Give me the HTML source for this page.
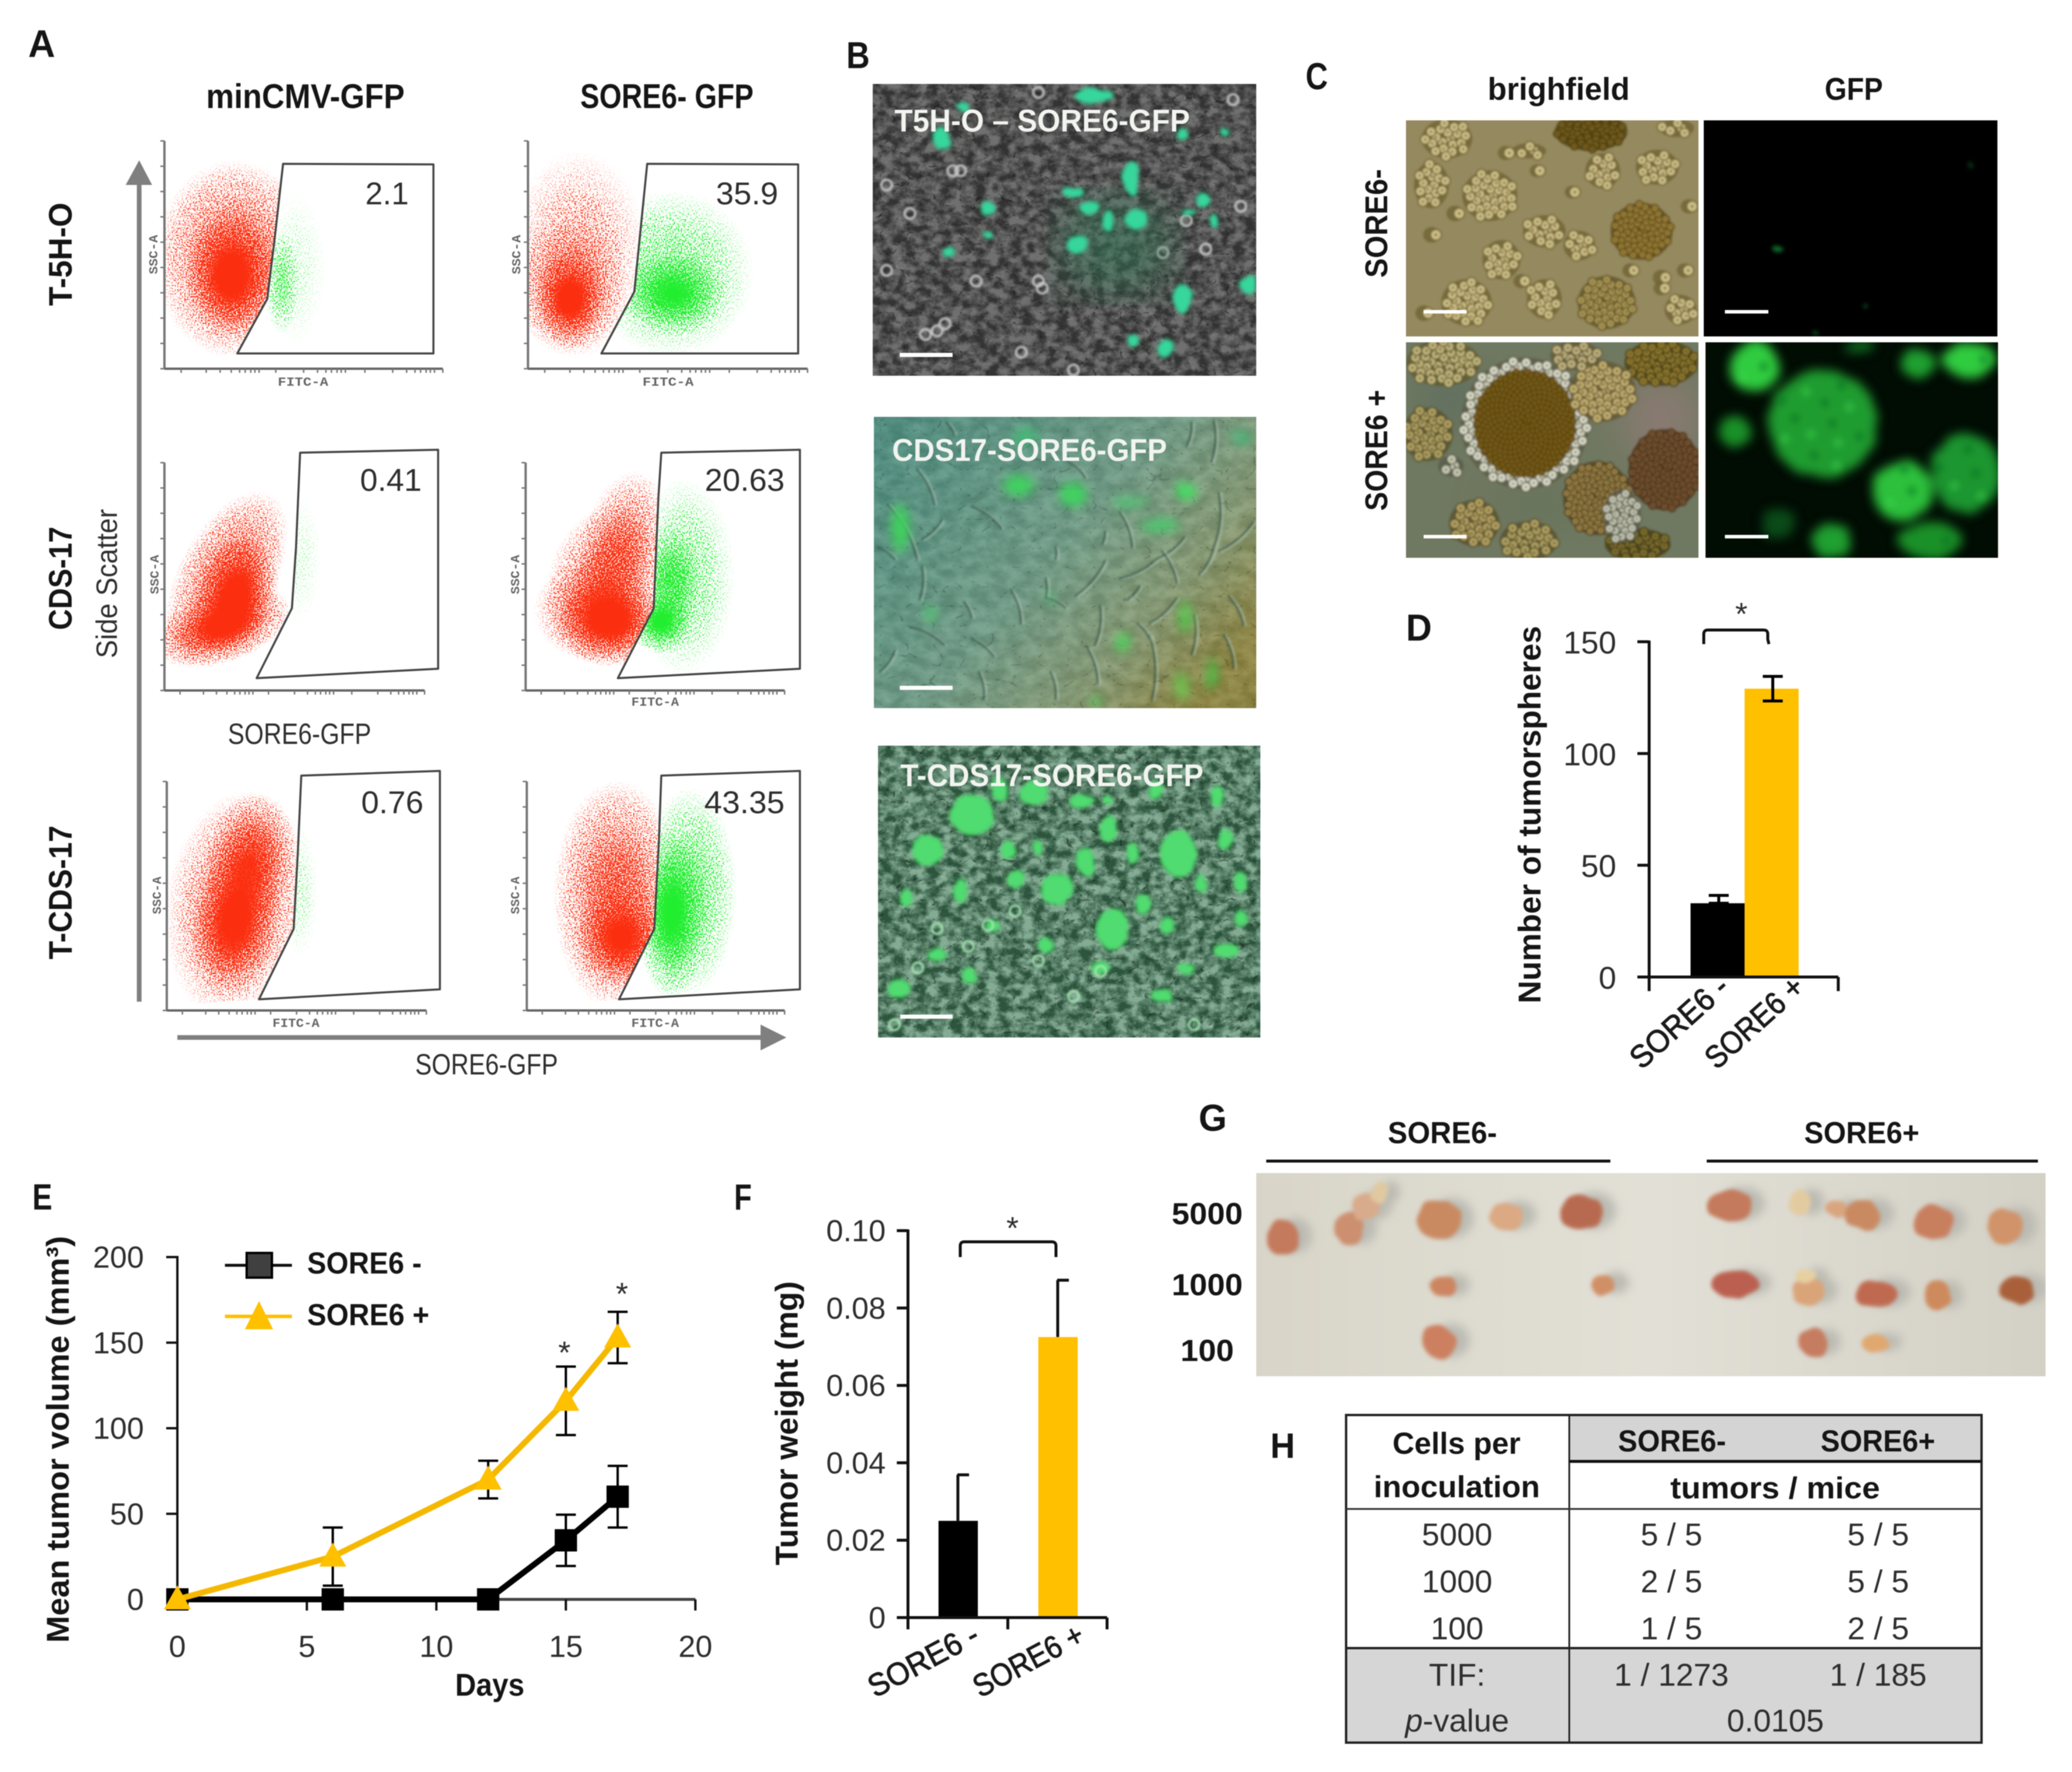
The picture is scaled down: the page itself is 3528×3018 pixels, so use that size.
<!DOCTYPE html>
<html lang="en">
<head>
<meta charset="utf-8">
<title>SORE6 multi-panel figure</title>
<style>
html,body{margin:0;padding:0;background:#fff;width:3528px;height:3018px;overflow:hidden}
svg{display:block;filter:blur(0.9px)}
text{font-family:"Liberation Sans",sans-serif}
.b{font-weight:700;fill:#151515}
.r{font-weight:400;fill:#2e2e2e}
.w{font-weight:700;fill:#f2f4f0}
.t{font-family:"Liberation Mono",monospace;font-size:21px;fill:#666;font-weight:700}
.rot{font-weight:400;fill:#1a1a1a;stroke:#1a1a1a;stroke-width:1.2}
</style>
</head>
<body>
<svg id="figure" xmlns="http://www.w3.org/2000/svg" width="3528" height="3018" viewBox="0 0 3528 3018">
<defs>
  <radialGradient id="cloud-fade"><stop offset="0" stop-color="#000" stop-opacity="1"/><stop offset="0.35" stop-color="#000" stop-opacity="0.78"/><stop offset="0.7" stop-color="#000" stop-opacity="0.3"/><stop offset="1" stop-color="#000" stop-opacity="0"/></radialGradient>
  <filter id="speck-red" x="-5%" y="-5%" width="110%" height="110%" color-interpolation-filters="sRGB">
    <feTurbulence type="fractalNoise" baseFrequency="0.42" numOctaves="2" seed="4" result="n"/>
    <feColorMatrix in="n" type="matrix" values="0 0 0 0 0 0 0 0 0 0 0 0 0 0 0 0 0 0 4 -1.5" result="na"/>
    <feComposite in="SourceGraphic" in2="na" operator="arithmetic" k1="0" k2="1.3" k3="1" k4="-1" result="mix"/>
    <feComponentTransfer in="mix" result="th"><feFuncA type="linear" slope="5" intercept="0"/></feComponentTransfer>
    <feFlood flood-color="#fb2f10"/>
    <feComposite in2="th" operator="in"/>
  </filter>
  <filter id="speck-green" x="-5%" y="-5%" width="110%" height="110%" color-interpolation-filters="sRGB">
    <feTurbulence type="fractalNoise" baseFrequency="0.42" numOctaves="2" seed="11" result="n"/>
    <feColorMatrix in="n" type="matrix" values="0 0 0 0 0 0 0 0 0 0 0 0 0 0 0 0 0 0 4 -1.5" result="na"/>
    <feComposite in="SourceGraphic" in2="na" operator="arithmetic" k1="0" k2="1.3" k3="1" k4="-1" result="mix"/>
    <feComponentTransfer in="mix" result="th"><feFuncA type="linear" slope="5" intercept="0"/></feComponentTransfer>
    <feFlood flood-color="#22ee30"/>
    <feComposite in2="th" operator="in"/>
  </filter>
  <filter id="tex-soft" x="0" y="0" width="100%" height="100%" color-interpolation-filters="sRGB">
    <feTurbulence type="fractalNoise" baseFrequency="0.035 0.05" numOctaves="4" seed="7"/>
    <feColorMatrix type="matrix" values="2.2 0 0 0 -0.6 2.2 0 0 0 -0.6 2.2 0 0 0 -0.6 0 0 0 0 0.16"/>
  </filter>
  <filter id="tex-mid" x="0" y="0" width="100%" height="100%" color-interpolation-filters="sRGB">
    <feTurbulence type="fractalNoise" baseFrequency="0.05 0.065" numOctaves="4" seed="13"/>
    <feColorMatrix type="matrix" values="2.6 0 0 0 -0.8 2.6 0 0 0 -0.8 2.6 0 0 0 -0.8 0 0 0 0 0.34"/>
  </filter>
  <filter id="tex-veins-dark" x="0" y="0" width="100%" height="100%" color-interpolation-filters="sRGB">
    <feTurbulence type="turbulence" baseFrequency="0.022 0.03" numOctaves="3" seed="5"/>
    <feColorMatrix type="matrix" values="0 0 0 0 0.05 0 0 0 0 0.07 0 0 0 0 0.05 0 0 0 -9 0.85"/>
  </filter>
  <filter id="tex-veins-light" x="0" y="0" width="100%" height="100%" color-interpolation-filters="sRGB">
    <feTurbulence type="turbulence" baseFrequency="0.03 0.035" numOctaves="3" seed="16"/>
    <feColorMatrix type="matrix" values="0 0 0 0 0.82 0 0 0 0 0.88 0 0 0 0 0.8 0 0 0 -9 0.8"/>
  </filter>
  <filter id="tex-rings" x="0" y="0" width="100%" height="100%" color-interpolation-filters="sRGB">
    <feTurbulence type="turbulence" baseFrequency="0.07" numOctaves="2" seed="31"/>
    <feColorMatrix type="matrix" values="0 0 0 0 0.2 0 0 0 0 0.16 0 0 0 0 0.06 0 0 0 -8 0.9"/>
  </filter>
  <filter id="lumpy" x="-5%" y="-5%" width="110%" height="110%" color-interpolation-filters="sRGB">
    <feTurbulence type="fractalNoise" baseFrequency="0.025" numOctaves="2" seed="9" result="n"/>
    <feDisplacementMap in="SourceGraphic" in2="n" scale="14" xChannelSelector="R" yChannelSelector="G"/>
    <feGaussianBlur stdDeviation="3.5"/>
  </filter>
  <filter id="lumpy-soft" x="-5%" y="-5%" width="110%" height="110%" color-interpolation-filters="sRGB">
    <feTurbulence type="fractalNoise" baseFrequency="0.03" numOctaves="2" seed="3" result="n"/>
    <feDisplacementMap in="SourceGraphic" in2="n" scale="14" xChannelSelector="R" yChannelSelector="G"/>
    <feGaussianBlur stdDeviation="9"/>
  </filter>
  <filter id="soft-8"><feGaussianBlur stdDeviation="8"/></filter>
  <filter id="soft-5"><feGaussianBlur stdDeviation="5"/></filter>
  <filter id="soft-2"><feGaussianBlur stdDeviation="1.8"/></filter>
  <filter id="soft-30"><feGaussianBlur stdDeviation="34"/></filter>
  <clipPath id="clip-b1"><rect x="1486" y="143" width="653" height="497"/></clipPath>
  <clipPath id="clip-b2"><rect x="1488" y="710" width="651" height="496"/></clipPath>
  <clipPath id="clip-b3"><rect x="1495" y="1270" width="651" height="497"/></clipPath>
  <clipPath id="clip-c1"><rect x="2394" y="205" width="498" height="368"/></clipPath>
  <clipPath id="clip-c2"><rect x="2901" y="205" width="500" height="368"/></clipPath>
  <clipPath id="clip-c3"><rect x="2394" y="583" width="498" height="367"/></clipPath>
  <clipPath id="clip-c4"><rect x="2904" y="583" width="498" height="367"/></clipPath>
  <clipPath id="clip-g"><rect x="2139" y="1998" width="1344" height="346"/></clipPath>
  <linearGradient id="b2-bg" x1="0" y1="0.1" x2="1" y2="0.75"><stop offset="0" stop-color="#4e8f80"/><stop offset="0.5" stop-color="#6f9c86"/><stop offset="0.78" stop-color="#869a72"/><stop offset="1" stop-color="#8d843e"/></linearGradient>
  <linearGradient id="g-bg" x1="0" y1="0" x2="1" y2="0"><stop offset="0" stop-color="#d8d5c8"/><stop offset="0.5" stop-color="#e2e0d6"/><stop offset="1" stop-color="#d3d0c5"/></linearGradient>
</defs>

<rect x="0" y="0" width="3528" height="3018" fill="#fff"/>

<!-- PANEL A -->
<g id="panel-a">
  <text class="b" x="48" y="97" font-size="66" textLength="46" lengthAdjust="spacingAndGlyphs">A</text>
  <text class="b" x="351" y="184" font-size="58" textLength="338" lengthAdjust="spacingAndGlyphs">minCMV-GFP</text>
  <text class="b" x="988" y="184" font-size="58" textLength="295" lengthAdjust="spacingAndGlyphs">SORE6- GFP</text>
  <text class="b" transform="translate(122,521) rotate(-90)" font-size="56" textLength="176" lengthAdjust="spacingAndGlyphs">T-5H-O</text>
  <text class="b" transform="translate(122,1073) rotate(-90)" font-size="56" textLength="176" lengthAdjust="spacingAndGlyphs">CDS-17</text>
  <text class="b" transform="translate(122,1634) rotate(-90)" font-size="56" textLength="228" lengthAdjust="spacingAndGlyphs">T-CDS-17</text>
  <text class="r" transform="translate(199,1121) rotate(-90)" font-size="50" textLength="254" lengthAdjust="spacingAndGlyphs">Side Scatter</text>
  <text class="r" x="707" y="1830" font-size="50" textLength="243" lengthAdjust="spacingAndGlyphs">SORE6-GFP</text>
  <text class="r" x="388" y="1267" font-size="50" textLength="244" lengthAdjust="spacingAndGlyphs">SORE6-GFP</text>
  <g id="facs-plots"></g>
  <path fill="#7f7f7f" d="M233 1706V315H214L237 273L259 315H241V1706Z"/>
  <path fill="#7f7f7f" d="M302 1763H1295V1745L1339 1767L1295 1789V1771H302Z"/>
  <text class="r" x="622" y="348" font-size="54" textLength="74" lengthAdjust="spacingAndGlyphs">2.1</text>
  <text class="r" x="1219" y="348" font-size="54" textLength="106" lengthAdjust="spacingAndGlyphs">35.9</text>
  <text class="r" x="613" y="836" font-size="54" textLength="105" lengthAdjust="spacingAndGlyphs">0.41</text>
  <text class="r" x="1200" y="836" font-size="54" textLength="136" lengthAdjust="spacingAndGlyphs">20.63</text>
  <text class="r" x="615" y="1385" font-size="54" textLength="106" lengthAdjust="spacingAndGlyphs">0.76</text>
  <text class="r" x="1199" y="1385" font-size="54" textLength="137" lengthAdjust="spacingAndGlyphs">43.35</text>
  <text class="t" x="473" y="657" textLength="86" lengthAdjust="spacingAndGlyphs">FITC-A</text>
  <text class="t" x="1094" y="657" textLength="87" lengthAdjust="spacingAndGlyphs">FITC-A</text>
  <text class="t" x="1075" y="1202" textLength="81" lengthAdjust="spacingAndGlyphs">FITC-A</text>
  <text class="t" x="464" y="1749" textLength="80" lengthAdjust="spacingAndGlyphs">FITC-A</text>
  <text class="t" x="1075" y="1749" textLength="81" lengthAdjust="spacingAndGlyphs">FITC-A</text>
  <text class="t" transform="translate(268,467) rotate(-90)" textLength="67" lengthAdjust="spacingAndGlyphs">SSC-A</text>
  <text class="t" transform="translate(886,467) rotate(-90)" textLength="67" lengthAdjust="spacingAndGlyphs">SSC-A</text>
  <text class="t" transform="translate(270,1012) rotate(-90)" textLength="67" lengthAdjust="spacingAndGlyphs">SSC-A</text>
  <text class="t" transform="translate(884,1012) rotate(-90)" textLength="67" lengthAdjust="spacingAndGlyphs">SSC-A</text>
  <text class="t" transform="translate(274,1557) rotate(-90)" textLength="64" lengthAdjust="spacingAndGlyphs">SSC-A</text>
  <text class="t" transform="translate(884,1557) rotate(-90)" textLength="64" lengthAdjust="spacingAndGlyphs">SSC-A</text>
</g>

<!-- PANEL B -->
<g id="panel-b">
  <text class="b" x="1441" y="116" font-size="64" textLength="40" lengthAdjust="spacingAndGlyphs">B</text>
  <g clip-path="url(#clip-b1)">
    <rect x="1486" y="143" width="653" height="497" fill="#444444"/>
    <rect x="1486" y="143" width="653" height="497" fill="#000" filter="url(#tex-mid)" opacity="0.7"/>
    <rect x="1486" y="143" width="653" height="497" fill="#000" filter="url(#tex-veins-dark)" opacity="0.8"/>
    <rect x="1486" y="143" width="653" height="497" fill="#000" filter="url(#tex-veins-light)" opacity="0.3"/>
    <g id="b1-rings" filter="url(#soft-2)"></g>
    <g id="b1-haze" filter="url(#soft-30)"></g>
    <g id="b1-blobs" filter="url(#lumpy)"></g>
  </g>
  <g clip-path="url(#clip-b2)">
    <rect x="1488" y="710" width="651" height="496" fill="url(#b2-bg)"/>
    <rect x="1488" y="710" width="651" height="496" fill="#000" filter="url(#tex-soft)" opacity="0.6"/>
    <rect x="1488" y="710" width="651" height="496" fill="#000" filter="url(#tex-veins-dark)" opacity="0.35"/>
    <g id="b2-streaks" filter="url(#soft-2)"></g>
    <g id="b2-blobs" filter="url(#lumpy-soft)"></g>
  </g>
  <g clip-path="url(#clip-b3)">
    <rect x="1495" y="1270" width="651" height="497" fill="#447f5c"/>
    <rect x="1495" y="1270" width="651" height="497" fill="#000" filter="url(#tex-mid)"/>
    <rect x="1495" y="1270" width="651" height="497" fill="#000" filter="url(#tex-veins-dark)" opacity="0.8"/>
    <rect x="1495" y="1270" width="651" height="497" fill="#000" filter="url(#tex-veins-light)" opacity="0.55"/>
    <g id="b3-blobs" filter="url(#lumpy)"></g>
    <g id="b3-rings" filter="url(#soft-2)"></g>
  </g>
  <text class="w" x="1523" y="224" font-size="54" textLength="503" lengthAdjust="spacingAndGlyphs">T5H-O – SORE6-GFP</text>
  <text class="w" x="1519" y="785" font-size="54" textLength="468" lengthAdjust="spacingAndGlyphs">CDS17-SORE6-GFP</text>
  <text class="w" x="1533" y="1339" font-size="54" textLength="516" lengthAdjust="spacingAndGlyphs">T-CDS17-SORE6-GFP</text>
  <rect x="1532" y="601" width="90" height="7" fill="#fff"/>
  <rect x="1532" y="1168" width="90" height="7" fill="#fff"/>
  <rect x="1533" y="1728" width="89" height="7" fill="#fff"/>
</g>

<!-- PANEL C -->
<g id="panel-c">
  <text class="b" x="2223" y="152" font-size="64" textLength="38" lengthAdjust="spacingAndGlyphs">C</text>
  <text class="b" x="2533" y="170" font-size="54" textLength="242" lengthAdjust="spacingAndGlyphs">brighfield</text>
  <text class="b" x="3107" y="170" font-size="54" textLength="99" lengthAdjust="spacingAndGlyphs">GFP</text>
  <text class="b" transform="translate(2362,473) rotate(-90)" font-size="54" textLength="185" lengthAdjust="spacingAndGlyphs">SORE6-</text>
  <text class="b" transform="translate(2362,870) rotate(-90)" font-size="54" textLength="206" lengthAdjust="spacingAndGlyphs">SORE6 +</text>
  <g clip-path="url(#clip-c1)">
    <rect x="2394" y="205" width="498" height="368" fill="#95895f"/>
    <g id="c1-blobs" filter="url(#soft-2)"></g>
  </g>
  <g clip-path="url(#clip-c2)">
    <rect x="2901" y="205" width="500" height="368" fill="#000"/>
    <g id="c2-blobs" filter="url(#lumpy)"></g>
  </g>
  <g clip-path="url(#clip-c3)">
    <rect x="2394" y="583" width="498" height="367" fill="#6f7860"/>
    <g id="c3-under" filter="url(#soft-30)"></g>
    <g id="c3-blobs" filter="url(#soft-2)"></g>
  </g>
  <g clip-path="url(#clip-c4)">
    <rect x="2904" y="583" width="498" height="367" fill="#010c03"/>
    <g id="c4-blobs" filter="url(#lumpy-soft)"></g>
    <g id="c4-mottle" filter="url(#soft-5)"></g>
  </g>
  <rect x="2424" y="528" width="73" height="6" fill="#fff"/>
  <rect x="2937" y="528" width="74" height="6" fill="#fff"/>
  <rect x="2424" y="911" width="73" height="6" fill="#fff"/>
  <rect x="2937" y="911" width="74" height="6" fill="#fff"/>
</g>

<!-- PANEL D -->
<g id="panel-d">
  <text class="b" x="2394" y="1091" font-size="64" textLength="44" lengthAdjust="spacingAndGlyphs">D</text>
  <text class="b" transform="translate(2623,1709) rotate(-90)" font-size="54" textLength="643" lengthAdjust="spacingAndGlyphs">Number of tumorspheres</text>
  <path fill="none" stroke="#111" stroke-width="5" d="M2901 1097V1080Q2901 1073 2908 1073H3003Q3010 1073 3010 1080V1089L3012 1097"/>
  <text class="r" x="2965" y="1064" font-size="54" text-anchor="middle">*</text>
</g>

<!-- PANEL E -->
<g id="panel-e">
  <text class="b" x="55" y="2060" font-size="62" textLength="34" lengthAdjust="spacingAndGlyphs">E</text>
  <text class="b" transform="translate(117,2798) rotate(-90)" font-size="54" textLength="693" lengthAdjust="spacingAndGlyphs">Mean tumor volume (mm³)</text>
  <text class="b" x="775" y="2888" font-size="54" textLength="118" lengthAdjust="spacingAndGlyphs">Days</text>
  <line x1="383" y1="2155" x2="497" y2="2155" stroke="#111" stroke-width="5"/>
  <rect x="420" y="2134" width="43" height="42" fill="#404040" stroke="#000" stroke-width="4"/>
  <text class="b" x="523" y="2169" font-size="52" textLength="195" lengthAdjust="spacingAndGlyphs">SORE6 -</text>
  <line x1="383" y1="2242" x2="497" y2="2242" stroke="#FFC000" stroke-width="6"/>
  <polygon points="417,2264 465,2264 441,2216" fill="#FFC000"/>
  <text class="b" x="523" y="2257" font-size="52" textLength="208" lengthAdjust="spacingAndGlyphs">SORE6 +</text>
  <text class="r" x="961" y="2322" font-size="54" text-anchor="middle">*</text>
  <text class="r" x="1059" y="2222" font-size="54" text-anchor="middle">*</text>
</g>

<!-- PANEL F -->
<g id="panel-f">
  <text class="b" x="1250" y="2060" font-size="62" textLength="30" lengthAdjust="spacingAndGlyphs">F</text>
  <text class="b" transform="translate(1358,2666) rotate(-90)" font-size="54" textLength="484" lengthAdjust="spacingAndGlyphs">Tumor weight (mg)</text>
  <path fill="none" stroke="#111" stroke-width="5" d="M1635 2141V2122Q1635 2115 1642 2115H1791Q1798 2115 1798 2122V2141"/>
  <text class="r" x="1724" y="2110" font-size="54" text-anchor="middle">*</text>
</g>

<!-- PANEL G -->
<g id="panel-g">
  <text class="b" x="2041" y="1926" font-size="64" textLength="48" lengthAdjust="spacingAndGlyphs">G</text>
  <text class="b" x="2363" y="1947" font-size="52" textLength="186" lengthAdjust="spacingAndGlyphs">SORE6-</text>
  <text class="b" x="3072" y="1947" font-size="52" textLength="196" lengthAdjust="spacingAndGlyphs">SORE6+</text>
  <rect x="2156" y="1975" width="586" height="5" fill="#111"/>
  <rect x="2906" y="1975" width="564" height="5" fill="#111"/>
  <text class="b" x="1995" y="2085" font-size="52" textLength="121" lengthAdjust="spacingAndGlyphs">5000</text>
  <text class="b" x="1995" y="2206" font-size="52" textLength="121" lengthAdjust="spacingAndGlyphs">1000</text>
  <text class="b" x="2010" y="2318" font-size="52" textLength="91" lengthAdjust="spacingAndGlyphs">100</text>
  <g clip-path="url(#clip-g)">
    <rect x="2139" y="1998" width="1344" height="346" fill="url(#g-bg)"/>
    <g id="g-shadows" filter="url(#soft-8)"></g>
    <g id="g-blobs" filter="url(#lumpy)"></g>
  </g>
</g>

<!-- PANEL H -->
<g id="panel-h">
  <text class="b" x="2163" y="2483" font-size="60" textLength="42" lengthAdjust="spacingAndGlyphs">H</text>
  <rect x="2672" y="2410" width="702" height="79" fill="#d4d4d4"/>
  <rect x="2292" y="2807" width="1082" height="161" fill="#d6d6d6"/>
  <rect x="2292" y="2410" width="1082" height="558" fill="none" stroke="#222" stroke-width="4"/>
  <line x1="2672" y1="2410" x2="2672" y2="2968" stroke="#222" stroke-width="3"/>
  <line x1="2672" y1="2489" x2="3374" y2="2489" stroke="#111" stroke-width="5"/>
  <line x1="2292" y1="2570" x2="3374" y2="2570" stroke="#333" stroke-width="3"/>
  <line x1="2292" y1="2807" x2="3374" y2="2807" stroke="#222" stroke-width="4"/>
  <text class="b" x="2371" y="2476" font-size="52" textLength="218" lengthAdjust="spacingAndGlyphs">Cells per</text>
  <text class="b" x="2339" y="2550" font-size="52" textLength="283" lengthAdjust="spacingAndGlyphs">inoculation</text>
  <text class="b" x="2755" y="2472" font-size="52" textLength="184" lengthAdjust="spacingAndGlyphs">SORE6-</text>
  <text class="b" x="3100" y="2472" font-size="52" textLength="195" lengthAdjust="spacingAndGlyphs">SORE6+</text>
  <text class="b" x="2844" y="2552" font-size="52" textLength="357" lengthAdjust="spacingAndGlyphs">tumors / mice</text>
  <g font-size="54" text-anchor="middle">
    <text class="r" x="2481" y="2632">5000</text>
    <text class="r" x="2481" y="2712">1000</text>
    <text class="r" x="2481" y="2792">100</text>
    <text class="r" x="2846" y="2632">5 / 5</text>
    <text class="r" x="3198" y="2632">5 / 5</text>
    <text class="r" x="2846" y="2712">2 / 5</text>
    <text class="r" x="3198" y="2712">5 / 5</text>
    <text class="r" x="2846" y="2792">1 / 5</text>
    <text class="r" x="3198" y="2792">2 / 5</text>
    <text class="r" x="2481" y="2871">TIF:</text>
    <text class="r" x="2846" y="2871">1 / 1273</text>
    <text class="r" x="3198" y="2871">1 / 185</text>
    <text class="r" x="2481" y="2949"><tspan font-style="italic">p</tspan>-value</text>
    <text class="r" x="3023" y="2949">0.0105</text>
  </g>
</g>
</svg>

<script>
// ---------- Panel D values ----------
const dCategories = ['SORE6 -', 'SORE6 +'];
const dValues = [33, 129];
const dErrUp = [3.5, 5.5];
const dErrDown = [0, 5.5];
const dTicks = [0, 50, 100, 150];

// ---------- Panel E values ----------
const eDays = [0, 6, 12, 15, 17];
const eMinus = [0, 0, 0, 34.5, 60];
const eMinusErr = [0, 0, 0, 15, 18];
const ePlus = [0, 25, 70, 116, 153];
const ePlusErr = [0, 17, 11, 20, 15];
const eXTicks = [0, 5, 10, 15, 20];
const eYTicks = [0, 50, 100, 150, 200];

// ---------- Panel F values ----------
const fCategories = ['SORE6 -', 'SORE6 +'];
const fValues = [0.025, 0.0725];
const fErrUp = [0.0119, 0.0147];
const fTicks = [0, 0.02, 0.04, 0.06, 0.08, 0.10];
const fTickLabels = ['0', '0.02', '0.04', '0.06', '0.08', '0.10'];

// ---------- Panel A: estimated population clouds, [FITC %, SSC %, spread FITC, spread SSC, density, tilt] ----------
const redR1C1 = [[24, 40, 13, 24, 1, 0], [25, 48, 23, 38, 0.7, 0]];
const greenR1C1 = [[42, 38, 5, 20, 0.42, 0], [47, 44, 9, 30, 0.1, 0]];
const redR1C2 = [[15, 30, 10, 18, 1, 0], [15, 36, 16, 26, 0.55, 0], [18, 50, 20, 40, 0.3, 0]];
const greenR1C2 = [[52, 33, 15, 16, 0.95, 0], [51, 42, 24, 32, 0.42, 0]];
const redR2C1 = [[22, 28, 22, 14, 1, -18], [28, 42, 12, 22, 1, 20], [24, 50, 15, 36, 0.68, 28]];
const greenR2C1 = [[52, 58, 7, 26, 0.08, 0]];
const redR2C2 = [[33, 30, 17, 17, 1, 0], [28, 35, 20, 20, 0.6, 0], [37, 63, 13, 30, 0.55, 15], [31, 48, 18, 30, 0.6, 18]];
const greenR2C2 = [[52, 30, 10, 12, 1, 0], [56, 47, 9, 22, 0.72, 0], [61, 50, 16, 38, 0.34, 0]];
const redR3C1 = [[26, 38, 14, 28, 1, 8], [32, 65, 14, 26, 0.85, 10], [27, 46, 22, 44, 0.55, 8]];
const greenR3C1 = [[51, 52, 6, 26, 0.13, 0]];
const redR3C2 = [[37, 31, 15, 19, 0.95, 0], [35, 50, 20, 44, 0.72, 0]];
const greenR3C2 = [[56, 42, 11, 32, 1, 0], [63, 52, 15, 40, 0.52, 0]];

const NS = 'http://www.w3.org/2000/svg';
const svgRoot = document.getElementById('figure');

function shape(tag, attrs, parent, name) {
  const el = document.createElementNS(NS, tag);
  for (const k in attrs) el.setAttribute(k, attrs[k]);
  
  
  (parent || svgRoot).appendChild(el);
  return el;
}
function label(str, attrs, parent, name) {
  const el = shape('text', attrs, parent, name);
  el.textContent = str;
  return el;
}
function errorBar(parent, x, yTop, yBot, half, color, w, name) {
  shape('line', {x1: x, x2: x, y1: yTop, y2: yBot, stroke: color, 'stroke-width': w}, parent, name);
  shape('line', {x1: x - half, x2: x + half, y1: yTop, y2: yTop, stroke: color, 'stroke-width': w}, parent, name + '-cap-top');
  if (yBot !== yTop) shape('line', {x1: x - half, x2: x + half, y1: yBot, y2: yBot, stroke: color, 'stroke-width': w}, parent, name + '-cap-bottom');
}

// ---------- Panel D ----------
(function () {
  const g = document.getElementById('panel-d');
  const y = v => 1664 - v * (1664 - 1093) / 150;
  const x = i => 2924.5 + 92 * i;
  const colors = ['#000000', '#FFC000'];
  dCategories.forEach((c, i) => {
    shape('rect', {x: x(i) - 46, y: y(dValues[i]), width: 92, height: y(0) - y(dValues[i]), fill: colors[i]}, g, 'bar-d-' + i);
  });
  dCategories.forEach((c, i) => {
    errorBar(g, x(i) + 2, y(dValues[i] + dErrUp[i]), y(dValues[i] - dErrDown[i]), 17, '#000', 5, 'error-bar-d-' + i);
    label(c, {class: 'rot', 'font-size': 54, 'text-anchor': 'end', textLength: 205, lengthAdjust: 'spacingAndGlyphs',
      transform: 'translate(' + (x(i) + 23 + 36 * i) + ',1686) rotate(-42)'}, g, 'x-tick-label-d-' + i);
  });
  shape('line', {x1: 2808, x2: 2808, y1: y(150) - 2, y2: y(0) + 24, stroke: '#111', 'stroke-width': 5}, g, 'y-axis-d');
  shape('line', {x1: 2806, x2: 3130, y1: y(0), y2: y(0), stroke: '#111', 'stroke-width': 5}, g, 'x-axis-d');
  shape('line', {x1: 3130, x2: 3130, y1: y(0), y2: y(0) + 24, stroke: '#111', 'stroke-width': 5}, g, 'x-axis-end-tick-d');
  dTicks.forEach(t => {
    shape('line', {x1: 2788, x2: 2808, y1: y(t), y2: y(t), stroke: '#111', 'stroke-width': 5}, g, 'y-tick-d');
    label(String(t), {class: 'r', x: 2752, y: y(t) + 20, 'font-size': 54, 'text-anchor': 'end'}, g, 'y-tick-label-d');
  });
})();

// ---------- Panel E ----------
(function () {
  const g = document.getElementById('panel-e');
  const x = d => 302 + d * (1184 - 302) / 20;
  const y = v => 2724 - v * (2724 - 2141) / 200;
  shape('line', {x1: 302, x2: 302, y1: y(200) - 2, y2: y(0), stroke: '#111', 'stroke-width': 4}, g, 'y-axis-e');
  shape('line', {x1: 302, x2: 1184, y1: y(0), y2: y(0), stroke: '#444', 'stroke-width': 5}, g, 'x-axis-e');
  eYTicks.forEach(t => {
    shape('line', {x1: 283, x2: 302, y1: y(t), y2: y(t), stroke: '#111', 'stroke-width': 4}, g, 'y-tick-e');
    label(String(t), {class: 'r', x: 245, y: y(t) + 18, 'font-size': 52, 'text-anchor': 'end'}, g, 'y-tick-label-e');
  });
  eXTicks.forEach(t => {
    shape('line', {x1: x(t), x2: x(t), y1: y(0), y2: y(0) + 19, stroke: '#111', 'stroke-width': 4}, g, 'x-tick-e');
    label(String(t), {class: 'r', x: x(t), y: 2822, 'font-size': 52, 'text-anchor': 'middle'}, g, 'x-tick-label-e');
  });
  eDays.forEach((d, i) => {
    if (eMinusErr[i] > 0) errorBar(g, x(d), y(eMinus[i] + eMinusErr[i]), y(eMinus[i] - eMinusErr[i]), 17, '#000', 4, 'error-bar-minus-day-' + d);
    if (ePlusErr[i] > 0) errorBar(g, x(d), y(ePlus[i] + ePlusErr[i]), y(ePlus[i] - ePlusErr[i]), 17, '#000', 4, 'error-bar-plus-day-' + d);
  });
  shape('polyline', {points: eDays.map((d, i) => x(d) + ',' + y(eMinus[i])).join(' '), fill: 'none', stroke: '#000', 'stroke-width': 10}, g, 'line-sore6-minus');
  eDays.forEach((d, i) => {
    shape('rect', {x: x(d) - 19, y: y(eMinus[i]) - 19, width: 38, height: 38, fill: '#000'}, g, 'point-sore6-minus-day-' + d);
  });
  shape('polyline', {points: eDays.map((d, i) => x(d) + ',' + y(ePlus[i])).join(' '), fill: 'none', stroke: '#F5B800', 'stroke-width': 10}, g, 'line-sore6-plus');
  eDays.forEach((d, i) => {
    const px = x(d), py = y(ePlus[i]);
    shape('polygon', {points: (px - 23) + ',' + (py + 17) + ' ' + (px + 23) + ',' + (py + 17) + ' ' + px + ',' + (py - 24), fill: '#FFC000'}, g, 'point-sore6-plus-day-' + d);
  });
})();

// ---------- Panel F ----------
(function () {
  const g = document.getElementById('panel-f');
  const y = v => 2755 - v * (2755 - 2096) / 0.10;
  const x = i => 1546 + 170 * (i + 0.5);
  const colors = ['#000000', '#FFC000'];
  fCategories.forEach((c, i) => {
    shape('line', {x1: x(i), x2: x(i), y1: y(fValues[i]), y2: y(fValues[i] + fErrUp[i]), stroke: '#111', 'stroke-width': 5}, g, 'error-bar-f-' + i);
    shape('line', {x1: x(i) - 1, x2: x(i) + 19, y1: y(fValues[i] + fErrUp[i]), y2: y(fValues[i] + fErrUp[i]), stroke: '#111', 'stroke-width': 5}, g, 'error-cap-f-' + i);
    shape('rect', {x: x(i) - 33, y: y(fValues[i]), width: 67, height: y(0) - y(fValues[i]), fill: colors[i]}, g, 'bar-f-' + i);
    label(c, {class: 'rot', 'font-size': 54, 'text-anchor': 'end', textLength: 205, lengthAdjust: 'spacingAndGlyphs',
      transform: 'translate(' + (x(i) + 40 + 9 * i) + ',2796) rotate(-28)'}, g, 'x-tick-label-f-' + i);
  });
  shape('line', {x1: 1546, x2: 1546, y1: y(0.10) - 2, y2: y(0) + 20, stroke: '#111', 'stroke-width': 5}, g, 'y-axis-f');
  shape('line', {x1: 1546, x2: 1885, y1: y(0), y2: y(0), stroke: '#111', 'stroke-width': 5}, g, 'x-axis-f');
  [1716, 1885].forEach(px => {
    shape('line', {x1: px, x2: px, y1: y(0), y2: y(0) + 20, stroke: '#111', 'stroke-width': 5}, g, 'x-tick-f');
  });
  fTicks.forEach((t, i) => {
    shape('line', {x1: 1527, x2: 1546, y1: y(t), y2: y(t), stroke: '#111', 'stroke-width': 5}, g, 'y-tick-f');
    label(fTickLabels[i], {class: 'r', x: 1508, y: y(t) + 18, 'font-size': 52, 'text-anchor': 'end'}, g, 'y-tick-label-f');
  });
})();

// ---------- Panel A flow plots ----------
let facsId = 0;
function drawFacs(name, frame, gate, reds, greens) {
  const host = document.getElementById('facs-plots');
  const g = shape('g', {}, host, 'flow-plot-' + name);
  const fx = f => frame.x0 + f / 100 * (frame.xr - frame.x0);
  const fy = s => frame.yb - s / 100 * (frame.yb - frame.yt);
  const sx = f => f / 100 * (frame.xr - frame.x0);
  const sy = s => s / 100 * (frame.yb - frame.yt);
  facsId++;
  const defs = svgRoot.querySelector('defs');
  const [tl, tr, br, bl, p1, p2] = gate;
  const cr = shape('clipPath', {id: 'fr' + facsId}, defs, 'red-clip');
  shape('polygon', {points: [[frame.x0, frame.yt], tl, p2, p1, bl, [frame.x0, frame.yb - 8]].map(p => p.join(',')).join(' ')}, cr, 'red-clip-shape');
  const cg = shape('clipPath', {id: 'fg' + facsId}, defs, 'green-clip');
  shape('polygon', {points: gate.map(p => p.join(',')).join(' ')}, cg, 'green-clip-shape');
  [[reds, 'fr', 'speck-red', 'red-population'], [greens, 'fg', 'speck-green', 'green-population']].forEach(([list, pre, filt, nm]) => {
    const outer = shape('g', {'clip-path': 'url(#' + pre + facsId + ')'}, g, nm);
    const inner = shape('g', {filter: 'url(#' + filt + ')'}, outer, nm + '-cloud');
    shape('rect', {x: frame.x0, y: frame.yt, width: frame.xr - frame.x0, height: frame.yb - frame.yt, fill: '#000', 'fill-opacity': 0.001}, inner, nm + '-extent');
    list.forEach(c => {
      shape('ellipse', {cx: fx(c[0]), cy: fy(c[1]), rx: sx(c[2]) * 1.25, ry: sy(c[3]) * 1.15, fill: 'url(#cloud-fade)', opacity: c[4],
        transform: 'rotate(' + c[5] + ' ' + fx(c[0]) + ' ' + fy(c[1]) + ')'}, inner, nm + '-density');
    });
  });
  shape('polygon', {points: gate.map(p => p.join(',')).join(' '), fill: 'none', stroke: '#454545', 'stroke-width': 3.5, 'stroke-linejoin': 'round'}, g, 'gate-' + name);
  shape('line', {x1: frame.x0, x2: frame.x0, y1: frame.yt, y2: frame.yb, stroke: '#777', 'stroke-width': 4}, g, 'y-axis-' + name);
  shape('line', {x1: frame.x0, x2: frame.xr, y1: frame.yb, y2: frame.yb, stroke: '#666', 'stroke-width': 4}, g, 'x-axis-' + name);
  for (let i = 0; i <= 9; i++) {
    const ty = frame.yb - i / 9 * (frame.yb - frame.yt);
    shape('line', {x1: frame.x0 - 7, x2: frame.x0, y1: ty, y2: ty, stroke: '#777', 'stroke-width': 2.5}, g, 'y-tick');
  }
  [6, 15, 20, 24, 27, 29, 31, 32.5, 34, 40, 50, 55, 58, 60, 62, 63.5, 65, 72, 82, 87, 90, 92, 94, 95.5, 97, 100].forEach(p => {
    const tx = fx(p);
    shape('line', {x1: tx, x2: tx, y1: frame.yb, y2: frame.yb + 7, stroke: '#777', 'stroke-width': 2.5}, g, 'x-tick');
  });
}
drawFacs('r1-c1', {x0: 280, xr: 754, yb: 628, yt: 240},
  [[482, 279], [738, 280], [738, 602], [404, 602], [455, 509], [467, 412]], redR1C1, greenR1C1);
drawFacs('r1-c2', {x0: 899, xr: 1375, yb: 628, yt: 240},
  [[1102, 279], [1359, 280], [1359, 602], [1024, 602], [1080, 497], [1091, 388]], redR1C2, greenR1C2);
drawFacs('r2-c1', {x0: 280, xr: 723, yb: 1176, yt: 788},
  [[511, 771], [746, 766], [746, 1139], [437, 1155], [497, 1036], [504, 933]], redR2C1, greenR2C1);
drawFacs('r2-c2', {x0: 895, xr: 1336, yb: 1176, yt: 788},
  [[1126, 771], [1362, 766], [1362, 1139], [1052, 1155], [1113, 1036], [1121, 848]], redR2C2, greenR2C2);
drawFacs('r3-c1', {x0: 284, xr: 726, yb: 1721, yt: 1331},
  [[513, 1321], [749, 1313], [749, 1685], [441, 1702], [500, 1582], [507, 1454]], redR3C1, greenR3C1);
drawFacs('r3-c2', {x0: 897, xr: 1336, yb: 1721, yt: 1331},
  [[1126, 1321], [1362, 1313], [1362, 1685], [1054, 1702], [1114, 1582], [1122, 1430]], redR3C2, greenR3C2);

// ---------- Photographic panels (approximated with soft shapes) ----------
function topX(z) { return 1450 + z * 1.3253; }
function topY(z) { return z * 1.212; }
function b2X(z) { return 1486 + z * 0.421; }
function b2Y(z) { return 700 + z * 0.3316; }
function photoBlobs(id, color, list, mapX, mapY, sx, sy) {
  const g = document.getElementById(id);
  list.forEach(b => {
    shape('ellipse', {cx: mapX(b[0]), cy: mapY(b[1]), rx: b[2] * sx, ry: b[3] * sy, fill: b[4] || color, opacity: b[5] === undefined ? 1 : b[5]}, g, 'blob');
  });
}
// A packed cluster of small round cells filling an ellipse, spaced on a sunflower spiral.
function cellCluster(id, c) {
  const g = document.getElementById(id);
  const cx = topX(c[0]), cy = topY(c[1]), rx = c[2] * 1.325, ry = c[3] * 1.212;
  const cell = c[4], fill = c[5], edge = c[6], core = c[7];
  const n = Math.max(1, Math.floor(rx * ry / (cell * cell * 0.9)));
  shape('ellipse', {cx: cx, cy: cy, rx: rx + cell * 0.4, ry: ry + cell * 0.4, fill: edge, opacity: 0.75}, g, 'sphere-body');
  for (let i = 0; i < n; i++) {
    const r = Math.sqrt((i + 0.5) / n), a = i * 2.39996;
    const px = cx + rx * r * Math.cos(a), py = cy + ry * r * Math.sin(a);
    shape('circle', {cx: px, cy: py, r: cell, fill: fill, stroke: edge, 'stroke-width': 2.5}, g, 'cell');
    if (core) shape('circle', {cx: px, cy: py, r: cell * 0.32, fill: core}, g, 'cell-core');
  }
}

photoBlobs('b1-haze', '#2f7a58', [[340, 345, 75, 70, 0, 0.5]], topX, topY, 1.325, 1.212);
const b1Rings = [[45, 260], [75, 300], [140, 240], [160, 395], [240, 395], [110, 465], [120, 455], [455, 350], [430, 310], [218, 495], [45, 380], [500, 290], [490, 140], [285, 520], [240, 130], [400, 355], [130, 240], [245, 405], [95, 470]];
b1Rings.forEach(r => {
  shape('circle', {cx: topX(r[0]), cy: topY(r[1]), r: 9, fill: 'none', stroke: '#c8c8c8', 'stroke-width': 4}, document.getElementById('b1-rings'), 'rounded-cell');
});
photoBlobs('b1-blobs', '#37d69c', [[115, 195, 12, 15], [175, 293, 8, 10], [360, 250, 10, 25], [285, 270, 15, 7], [305, 292, 12, 8], [290, 343, 14, 12], [330, 310, 8, 14], [367, 308, 14, 14], [125, 355, 8, 8], [450, 280, 8, 10], [435, 300, 8, 5], [465, 310, 6, 8], [425, 420, 11, 22], [360, 478, 8, 9], [403, 490, 10, 15], [510, 400, 10, 14], [480, 185, 6, 6], [425, 190, 8, 8], [310, 135, 25, 10], [175, 330, 5, 5], [145, 150, 8, 6]], topX, topY, 1.325, 1.212);

const b2Outlines = [[400, 490, 520, 600], [60, 480, 180, 760], [280, 560, 200, 660], [1260, 650, 1150, 760, 1000, 860], [1170, 720, 1230, 880], [940, 770, 820, 950], [700, 860, 700, 960, 780, 1010], [560, 920, 600, 1090], [370, 980, 400, 1060], [150, 1110, 290, 1200], [400, 1170, 490, 1260], [870, 1220, 910, 1400], [1120, 1150, 1130, 1480], [1070, 1090, 1120, 1170], [1380, 50, 1370, 260], [1400, 420, 1380, 700, 1320, 840], [1540, 570, 1400, 720], [1230, 960, 1120, 1090], [920, 1000, 900, 1200], [200, 800, 190, 970], [720, 1340, 740, 1480], [90, 1230, 30, 1340], [1080, 900, 1030, 970], [1440, 950, 1500, 1100], [940, 620, 930, 680], [740, 700, 740, 760], [1000, 520, 1050, 700], [430, 1340, 450, 1480], [1290, 60, 1270, 180], [300, 60, 330, 120], [1420, 1150, 1460, 1320], [1300, 1050, 1290, 1250], [20, 700, 90, 760], [180, 300, 250, 480], [780, 250, 860, 340]];
function streakPath(o, dx, dy) {
  let d = 'M' + (b2X(o[0]) + dx) + ' ' + (b2Y(o[1]) + dy);
  for (let i = 2; i < o.length; i += 2) {
    const x0 = b2X(o[i - 2]), y0 = b2Y(o[i - 1]), x1 = b2X(o[i]), y1 = b2Y(o[i + 1]);
    const mx = (x0 + x1) / 2 + (y1 - y0) * 0.14 + dx, my = (y0 + y1) / 2 - (x1 - x0) * 0.14 + dy;
    d += 'Q' + mx + ' ' + my + ' ' + (x1 + dx) + ' ' + (y1 + dy);
  }
  return d;
}
b2Outlines.forEach(o => {
  const host = document.getElementById('b2-streaks');
  shape('path', {d: streakPath(o, 4, 1), fill: 'none', stroke: '#bcd6c4', 'stroke-width': 3, opacity: 0.5, 'stroke-linecap': 'round'}, host, 'fibroblast-highlight');
  shape('path', {d: streakPath(o, 0, 0), fill: 'none', stroke: '#26483c', 'stroke-width': 3.5, opacity: 0.7, 'stroke-linecap': 'round'}, host, 'fibroblast-outline');
});
photoBlobs('b2-blobs', '#3fd35e', [[590, 385, 60, 50], [810, 430, 55, 55], [1265, 410, 40, 45, '#44e864'], [110, 600, 32, 130], [1040, 470, 70, 20, '#4cc870'], [1160, 590, 80, 32, '#4cc870'], [620, 130, 55, 40, '#48b878'], [1490, 135, 38, 30, '#48b878'], [1260, 1060, 28, 80, '#58c850'], [1010, 1190, 28, 50, '#4cd058'], [1370, 1350, 20, 80, '#48c048'], [230, 1050, 22, 50, '#50c070'], [900, 1490, 25, 30, '#50d058'], [720, 960, 18, 30, '#50b070'], [1250, 1420, 30, 70, '#70c050']], b2X, b2Y, 0.421, 0.3316);
photoBlobs('b3-blobs', '#50dc70', [[155, 1145, 28, 30], [98, 1195, 20, 22], [420, 1200, 22, 34], [235, 1115, 20, 18], [295, 1125, 15, 8], [330, 1165, 10, 18], [265, 1250, 20, 20], [300, 1210, 12, 20], [335, 1305, 22, 27], [200, 1195, 10, 15], [190, 1110, 10, 18], [375, 1270, 10, 15], [405, 1300, 8, 10], [480, 1335, 15, 10], [330, 1125, 8, 8], [180, 1300, 10, 8], [210, 1235, 10, 12], [430, 1360, 12, 8], [320, 1360, 14, 10], [110, 1340, 12, 10], [480, 1180, 10, 14], [60, 1390, 14, 14], [360, 1200, 8, 16], [450, 1240, 8, 14], [140, 1250, 8, 16], [500, 1240, 8, 14], [240, 1190, 8, 12], [70, 1260, 8, 14], [390, 1110, 10, 14], [470, 1120, 8, 14], [500, 1290, 8, 12], [250, 1330, 10, 12], [150, 1370, 10, 10], [400, 1400, 14, 10]], topX, topY, 1.325, 1.212);
[[175, 1300], [110, 1305], [55, 1440], [210, 1280], [320, 1365], [285, 1400], [85, 1360], [150, 1330], [240, 1350], [440, 1440]].forEach(r => {
  shape('circle', {cx: topX(r[0]), cy: topY(r[1]), r: 9, fill: 'none', stroke: '#a6e8b4', 'stroke-width': 3.5}, document.getElementById('b3-rings'), 'rounded-cell');
});

const tan = '#d3c48c', tanEdge = '#6e6232', tanCore = '#857a45';
const c1Clusters = [[950, 185, 45, 25, 6, '#7c6420', '#4c3c10', '#5a4610'], [820, 275, 33, 33, 8, tan, tanEdge, tanCore], [1015, 325, 38, 38, 6, '#a3863e', '#5c4818', '#6f5820'], [965, 240, 20, 22, 8, tan, tanEdge, tanCore], [1035, 235, 25, 22, 8, tan, tanEdge, tanCore], [890, 325, 25, 20, 8, tan, tanEdge, tanCore], [835, 365, 22, 25, 8, tan, tanEdge, tanCore], [970, 425, 35, 35, 7, '#b09c58', '#5f5226', '#74683a'], [790, 425, 30, 30, 8, tan, tanEdge, tanCore], [890, 420, 20, 25, 8, tan, tanEdge, tanCore], [765, 195, 30, 25, 8, tan, tanEdge, tanCore], [1065, 435, 18, 18, 8, tan, tanEdge, tanCore], [745, 260, 20, 30, 8, tan, tanEdge, tanCore], [935, 345, 18, 18, 8, tan, tanEdge, tanCore], [870, 212, 20, 8, 8, tan, tanEdge, tanCore], [1060, 180, 20, 10, 8, tan, tanEdge, tanCore], [745, 330, 8, 8, 9, tan, tanEdge, tanCore], [1040, 390, 8, 8, 9, tan, tanEdge, tanCore], [735, 440, 8, 8, 9, tan, tanEdge, tanCore], [880, 240, 6, 6, 9, tan, tanEdge, tanCore], [925, 270, 6, 6, 9, tan, tanEdge, tanCore], [775, 300, 8, 8, 9, tan, tanEdge, tanCore], [860, 395, 7, 7, 9, tan, tanEdge, tanCore], [1000, 380, 7, 7, 9, tan, tanEdge, tanCore], [1070, 380, 7, 7, 9, tan, tanEdge, tanCore], [840, 215, 7, 7, 9, tan, tanEdge, tanCore], [1040, 405, 7, 7, 9, tan, tanEdge, tanCore], [1075, 290, 7, 7, 9, tan, tanEdge, tanCore]];
c1Clusters.forEach(c => cellCluster('c1-blobs', c));

photoBlobs('c3-under', '#8a7a72', [[1040, 590, 50, 60], [770, 560, 40, 40, '#5f6e60'], [880, 710, 60, 30, '#68735c']], topX, topY, 1.325, 1.212);
const c3Clusters = [[865, 595, 80, 90, 8, '#e0e0d0', '#5c5c44', '#8c8c70'], [865, 595, 64, 74, 5, '#82661a', '#57410c', '#5e4a10'], [1045, 660, 45, 55, 6, '#7c5a38', '#4c3018', '#4c3018'], [958, 700, 42, 50, 6, '#a88c4c', '#4f4020', '#56482a'], [760, 510, 45, 30, 8, '#c8ba80', '#5f5a30', '#6f6a40'], [1040, 510, 45, 30, 7, '#937e32', '#4c3f12', '#5a4c1c'], [965, 550, 40, 40, 8, '#c8b474', '#615530', '#786a3c'], [740, 610, 30, 35, 8, '#b5a565', '#55502c', '#68603a'], [800, 735, 30, 30, 8, '#baa565', '#55502c', '#68603a'], [870, 760, 35, 25, 8, '#b5a565', '#55502c', '#68603a'], [1010, 765, 40, 20, 7, '#847432', '#433a14', '#4c4218'], [930, 500, 30, 18, 8, '#c6b684', '#5f5836', '#72683f'], [770, 655, 14, 12, 8, '#cfd0b8', '#55584a', '#777866'], [990, 725, 22, 35, 7, '#cfd0bc', '#555848', '#777866']];
c3Clusters.forEach(c => cellCluster('c3-blobs', c));

photoBlobs('c2-blobs', '#0a6a28', [[1190, 350, 6, 5], [1303, 430, 3, 3, '#084a20'], [1240, 468, 5, 3, '#084a20'], [1437, 232, 4, 4, '#052c12']], topX, topY, 1.325, 1.212);
photoBlobs('c4-blobs', '#1f9c30', [[1248, 595, 70, 75], [1432, 665, 45, 55, '#1c9630'], [1350, 690, 38, 42, '#2cc03c'], [1160, 515, 32, 35, '#30cc40'], [1135, 605, 20, 22, '#1a9028'], [1435, 505, 35, 25, '#30cc40'], [1370, 510, 22, 20, '#1fa030'], [1385, 760, 40, 25, '#1a9028'], [1260, 760, 25, 25, '#1fa030'], [1190, 735, 20, 20, '#0a4a18'], [1295, 487, 20, 8, '#0e6a20']], topX, topY, 1.325, 1.212);
[[1248, 595, 62, 66], [1432, 665, 38, 48], [1350, 690, 30, 34], [1160, 515, 24, 26], [1435, 505, 27, 18], [1385, 760, 30, 16]].forEach(s => {
  const host = document.getElementById('c4-mottle');
  const cx = topX(s[0]), cy = topY(s[1]), rx = s[2] * 1.325, ry = s[3] * 1.212;
  const n = Math.floor(rx * ry / 500);
  for (let i = 0; i < n; i++) {
    const r = Math.sqrt((i + 0.5) / n), a = i * 2.39996;
    shape('circle', {cx: cx + rx * r * Math.cos(a), cy: cy + ry * r * Math.sin(a), r: 9, fill: i % 2 ? '#3ed84e' : '#0e6a1c', opacity: 0.38}, host, 'mottle-spot');
  }
});

function gX(z) { return 1950 + z * 1.0064; }
function gY(z) { return 1850 + z * 0.745; }
const tumors = [[232, 345, 28, 40, '#c47a5c'], [345, 325, 25, 40, '#cc8f70'], [372, 275, 24, 32, '#d8ab8c'], [395, 245, 14, 25, '#e0c8a0'], [498, 305, 36, 45, '#c98a62'], [610, 298, 30, 32, '#dba983'], [738, 288, 37, 42, '#b86a50'], [990, 272, 37, 38, '#c47a5c'], [1107, 268, 20, 30, '#e3cba0'], [1170, 280, 20, 18, '#d9a57e'], [1215, 295, 30, 35, '#c98a62'], [1332, 312, 35, 38, '#c87f5e'], [1455, 322, 32, 42, '#d0936a'],
  [505, 458, 22, 25, '#cc8560'], [775, 453, 22, 25, '#d08f66'], [998, 453, 40, 30, '#bb6050'], [1122, 470, 28, 30, '#d9a478'], [1118, 435, 16, 16, '#e6d0a0'], [1238, 475, 35, 33, '#bf6a50'], [1340, 480, 22, 32, '#cd8a5c'], [1475, 465, 30, 32, '#a9603a'],
  [497, 585, 30, 38, '#cc8060'], [1130, 588, 25, 30, '#c67c60'], [1235, 588, 24, 20, '#e0a870']];
photoBlobs('g-shadows', '#bcbbb3', tumors.map(t => [t[0] + 22, t[1] - 4, t[2], t[3]]), gX, gY, 1, 0.745);
photoBlobs('g-blobs', '#c47a5c', tumors, gX, gY, 1, 0.745);
</script>
</body>
</html>
